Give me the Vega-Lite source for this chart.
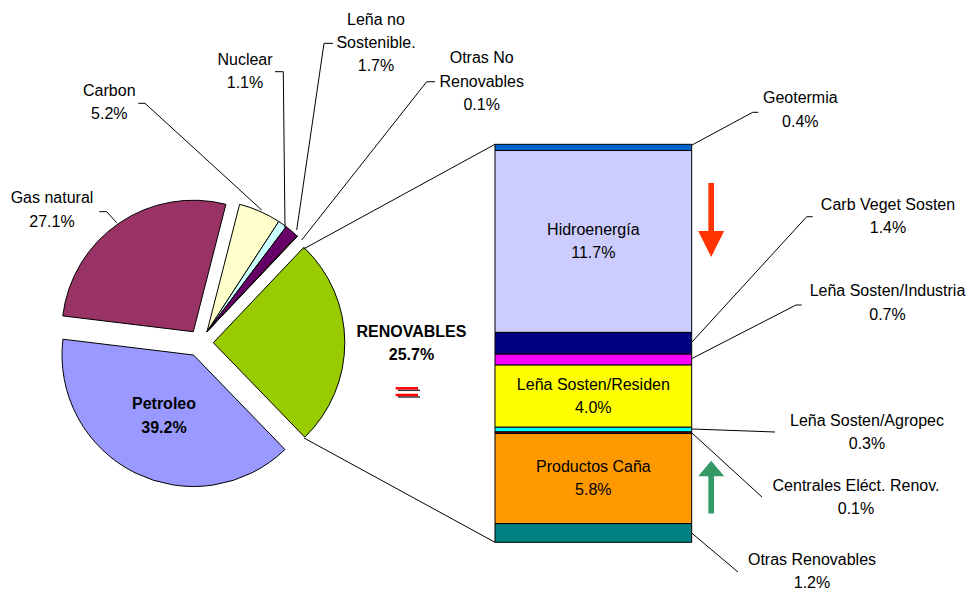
{
"$schema":"https://vega.github.io/schema/vega-lite/v6.json",
"width":974,"height":594,"autosize":"none","padding":0,"background":"white",
"config":{"view":{"stroke":null},"axis":{"disable":true},"legend":{"disable":true},
 "text":{"font":"Liberation Sans","fontSize":16,"lineBreak":"\n","lineHeight":23.3,"color":"#000000"},
 "rule":{"color":"#000000","strokeWidth":1}},
"datasets":{
 "pie":[
  {"fuente":"RENOVABLES","valor":0.257},
  {"fuente":"Petroleo","valor":0.392},
  {"fuente":"Gas natural","valor":0.271},
  {"fuente":"Carbon","valor":0.052},
  {"fuente":"Nuclear","valor":0.011},
  {"fuente":"Leña no\nSostenible.","valor":0.017},
  {"fuente":"Otras No\nRenovables","valor":0.001}],
 "renov":[
  {"fuente":"Geotermia","valor":0.004},
  {"fuente":"Hidroenergía","valor":0.117},
  {"fuente":"Carb Veget Sosten","valor":0.014},
  {"fuente":"Leña Sosten/Industria","valor":0.007},
  {"fuente":"Leña Sosten/Residen","valor":0.040},
  {"fuente":"Leña Sosten/Agropec","valor":0.003},
  {"fuente":"Centrales Eléct. Renov.","valor":0.001},
  {"fuente":"Productos Caña","valor":0.058},
  {"fuente":"Otras Renovables","valor":0.012}]
},
"layer":[
 {"data":{"name":"pie"},
  "transform":[{"window":[{"op":"row_number","as":"idx"}]},{"stack":"valor","groupby":[],"sort":[{"field":"idx","order":"ascending"}],"as":["t0","t1"]},{"filter":{"field":"fuente","equal":"RENOVABLES"}}],
  "mark":{"type":"arc","radius":131.5,"stroke":"#000000","strokeWidth":1},
  "encoding":{
   "theta":{"field":"t0","type":"quantitative","scale":{"domain":[0,1.001],"range":[0.7592,7.0424]}},
   "theta2":{"field":"t1"},
   "x":{"datum":-1.4321,"type":"quantitative","scale":{"domain":[-2.5165,2.4352],"nice":false,"zero":false}},
   "y":{"datum":0.12838,"type":"quantitative","scale":{"domain":[-0.03325,0.34882],"nice":false,"zero":false}},
   "color":{"field":"fuente","type":"nominal","legend":null,"scale":{"domain":["RENOVABLES","Petroleo","Gas natural","Carbon","Nuclear","Leña no\nSostenible.","Otras No\nRenovables","Geotermia","Hidroenergía","Carb Veget Sosten","Leña Sosten/Industria","Leña Sosten/Residen","Leña Sosten/Agropec","Centrales Eléct. Renov.","Productos Caña","Otras Renovables"],"range":["#99CC00","#9999FF","#993366","#FFFFCC","#CCFFFF","#660066","#FF8080","#0066CC","#CCCCFF","#000080","#FF00FF","#FFFF00","#00FFFF","#800000","#FF9900","#008080"]}}
  }},
 {"data":{"name":"pie"},
  "transform":[{"window":[{"op":"row_number","as":"idx"}]},{"stack":"valor","groupby":[],"sort":[{"field":"idx","order":"ascending"}],"as":["t0","t1"]},{"filter":{"field":"fuente","equal":"Petroleo"}}],
  "mark":{"type":"arc","radius":131.5,"stroke":"#000000","strokeWidth":1},
  "encoding":{
   "theta":{"field":"t0","type":"quantitative","scale":{"domain":[0,1.001],"range":[0.7592,7.0424]}},
   "theta2":{"field":"t1"},
   "x":{"datum":-1.5328,"type":"quantitative","scale":{"domain":[-2.5165,2.4352],"nice":false,"zero":false}},
   "y":{"datum":0.12047,"type":"quantitative","scale":{"domain":[-0.03325,0.34882],"nice":false,"zero":false}},
   "color":{"field":"fuente","type":"nominal","legend":null}
  }},
 {"data":{"name":"pie"},
  "transform":[{"window":[{"op":"row_number","as":"idx"}]},{"stack":"valor","groupby":[],"sort":[{"field":"idx","order":"ascending"}],"as":["t0","t1"]},{"filter":{"field":"fuente","equal":"Gas natural"}}],
  "mark":{"type":"arc","radius":131.5,"stroke":"#000000","strokeWidth":1},
  "encoding":{
   "theta":{"field":"t0","type":"quantitative","scale":{"domain":[0,1.001],"range":[0.7592,7.0424]}},
   "theta2":{"field":"t1"},
   "x":{"datum":-1.5338,"type":"quantitative","scale":{"domain":[-2.5165,2.4352],"nice":false,"zero":false}},
   "y":{"datum":0.13546,"type":"quantitative","scale":{"domain":[-0.03325,0.34882],"nice":false,"zero":false}},
   "color":{"field":"fuente","type":"nominal","legend":null}
  }},
 {"data":{"name":"pie"},
  "transform":[{"window":[{"op":"row_number","as":"idx"}]},{"stack":"valor","groupby":[],"sort":[{"field":"idx","order":"ascending"}],"as":["t0","t1"]},{"filter":{"field":"fuente","oneOf":["Carbon","Nuclear","Leña no\nSostenible.","Otras No\nRenovables"]}}],
  "mark":{"type":"arc","radius":131.5,"stroke":"#000000","strokeWidth":1},
  "encoding":{
   "theta":{"field":"t0","type":"quantitative","scale":{"domain":[0,1.001],"range":[0.7592,7.0424]}},
   "theta2":{"field":"t1"},
   "x":{"datum":-1.4642,"type":"quantitative","scale":{"domain":[-2.5165,2.4352],"nice":false,"zero":false}},
   "y":{"datum":0.13546,"type":"quantitative","scale":{"domain":[-0.03325,0.34882],"nice":false,"zero":false}},
   "color":{"field":"fuente","type":"nominal","legend":null}
  }},
 {"data":{"name":"renov"},
  "transform":[{"window":[{"op":"row_number","as":"idx"}]},{"stack":"valor","groupby":[],"sort":[{"field":"idx","order":"descending"}],"as":["y0","y1"]}],
  "mark":{"type":"rect","stroke":"#000000","strokeWidth":1},
  "encoding":{
   "x":{"datum":0,"type":"quantitative","scale":{"domain":[-2.5165,2.4352],"nice":false,"zero":false}},
   "x2":{"datum":1},
   "y":{"field":"y0","type":"quantitative","scale":{"domain":[-0.03325,0.34882],"nice":false,"zero":false}},
   "y2":{"field":"y1"},
   "color":{"field":"fuente","type":"nominal","legend":null}
  }},
 {"data":{"name":"renov"},
  "transform":[{"window":[{"op":"row_number","as":"idx"}]}],
  "mark":{"type":"text","dy":-11.5},
  "encoding":{
   "x":{"datum":0.5,"type":"quantitative","scale":{"domain":[-2.5165,2.4352],"nice":false,"zero":false}},
   "y":{"field":"valor","type":"quantitative","stack":"zero","bandPosition":0.5,"scale":{"domain":[-0.03325,0.34882],"nice":false,"zero":false}},
   "order":{"field":"idx","type":"quantitative","sort":"descending"},
   "detail":{"field":"fuente","type":"nominal"},
   "text":{"condition":{"test":"indexof(['Hidroenergía','Leña Sosten/Residen','Productos Caña'], datum.fuente) >= 0","field":"fuente","type":"nominal"},"value":""}
  }},
 {"data":{"name":"renov"},
  "transform":[{"window":[{"op":"row_number","as":"idx"}]}],
  "mark":{"type":"text","dy":11.5},
  "encoding":{
   "x":{"datum":0.5,"type":"quantitative","scale":{"domain":[-2.5165,2.4352],"nice":false,"zero":false}},
   "y":{"field":"valor","type":"quantitative","stack":"zero","bandPosition":0.5,"scale":{"domain":[-0.03325,0.34882],"nice":false,"zero":false}},
   "order":{"field":"idx","type":"quantitative","sort":"descending"},
   "detail":{"field":"fuente","type":"nominal"},
   "text":{"condition":{"test":"indexof(['Hidroenergía','Leña Sosten/Residen','Productos Caña'], datum.fuente) >= 0","field":"valor","type":"quantitative","format":".1%"},"value":""}
  }},

 {"data":{"name":"pie"},"transform":[{"filter":{"field":"fuente","equal":"Gas natural"}}],
  "encoding":{"x":{"datum":-2.2522,"type":"quantitative","scale":{"domain":[-2.5165,2.4352],"nice":false,"zero":false}}},
  "layer":[
   {"mark":"text","encoding":{"y":{"datum":0.22127,"type":"quantitative","scale":{"domain":[-0.03325,0.34882],"nice":false,"zero":false}},"text":{"field":"fuente","type":"nominal"}}},
   {"mark":"text","encoding":{"y":{"datum":0.20622,"type":"quantitative"},"text":{"field":"valor","type":"quantitative","format":".1%"}}},
   {"mark":"rule","encoding":{"x":{"datum":-2.0117,"type":"quantitative"},"x2":{"datum":-1.9741},"y":{"datum":0.21265,"type":"quantitative"},"y2":{"datum":0.21265}}},
   {"mark":"rule","encoding":{"x":{"datum":-1.9741,"type":"quantitative"},"x2":{"datum":-1.9233},"y":{"datum":0.21265,"type":"quantitative"},"y2":{"datum":0.20557}}}
  ]},
 {"data":{"name":"pie"},"transform":[{"filter":{"field":"fuente","equal":"Carbon"}}],
  "encoding":{"x":{"datum":-1.9609,"type":"quantitative"}},
  "layer":[
   {"mark":"text","encoding":{"y":{"datum":0.29029,"type":"quantitative"},"text":{"field":"fuente","type":"nominal"}}},
   {"mark":"text","encoding":{"y":{"datum":0.27550,"type":"quantitative"},"text":{"field":"valor","type":"quantitative","format":".1%"}}},
   {"mark":"rule","encoding":{"x":{"datum":-1.8134,"type":"quantitative"},"x2":{"datum":-1.7794},"y":{"datum":0.28237,"type":"quantitative"},"y2":{"datum":0.28237}}},
   {"mark":"rule","encoding":{"x":{"datum":-1.7794,"type":"quantitative"},"x2":{"datum":-1.1861},"y":{"datum":0.28237,"type":"quantitative"},"y2":{"datum":0.21374}}}
  ]},
 {"data":{"name":"pie"},"transform":[{"filter":{"field":"fuente","equal":"Nuclear"}}],
  "encoding":{"x":{"datum":-1.2710,"type":"quantitative"}},
  "layer":[
   {"mark":"text","encoding":{"y":{"datum":0.31022,"type":"quantitative"},"text":{"field":"fuente","type":"nominal"}}},
   {"mark":"text","encoding":{"y":{"datum":0.29523,"type":"quantitative"},"text":{"field":"valor","type":"quantitative","format":".1%"}}},
   {"mark":"rule","encoding":{"x":{"datum":-1.1185,"type":"quantitative"},"x2":{"datum":-1.0763},"y":{"datum":0.30270,"type":"quantitative"},"y2":{"datum":0.30270}}},
   {"mark":"rule","encoding":{"x":{"datum":-1.0763,"type":"quantitative"},"x2":{"datum":-1.0676},"y":{"datum":0.30270,"type":"quantitative"},"y2":{"datum":0.20216}}}
  ]},
 {"data":{"name":"pie"},"transform":[{"filter":{"field":"fuente","equal":"Leña no\nSostenible."}}],
  "encoding":{"x":{"datum":-0.6050,"type":"quantitative"}},
  "layer":[
   {"mark":"text","encoding":{"y":{"datum":0.33595,"type":"quantitative"},"text":{"field":"fuente","type":"nominal"}}},
   {"mark":"text","encoding":{"y":{"datum":0.30655,"type":"quantitative"},"text":{"field":"valor","type":"quantitative","format":".1%"}}},
   {"mark":"rule","encoding":{"x":{"datum":-0.8693,"type":"quantitative"},"x2":{"datum":-0.8236},"y":{"datum":0.32096,"type":"quantitative"},"y2":{"datum":0.32096}}},
   {"mark":"rule","encoding":{"x":{"datum":-0.8693,"type":"quantitative"},"x2":{"datum":-1.0081},"y":{"datum":0.32096,"type":"quantitative"},"y2":{"datum":0.20088}}}
  ]},
 {"data":{"name":"pie"},"transform":[{"filter":{"field":"fuente","equal":"Otras No\nRenovables"}}],
  "encoding":{"x":{"datum":-0.0676,"type":"quantitative"}},
  "layer":[
   {"mark":"text","encoding":{"y":{"datum":0.31131,"type":"quantitative"},"text":{"field":"fuente","type":"nominal"}}},
   {"mark":"text","encoding":{"y":{"datum":0.28128,"type":"quantitative"},"text":{"field":"valor","type":"quantitative","format":".1%"}}},
   {"mark":"rule","encoding":{"x":{"datum":-0.3472,"type":"quantitative"},"x2":{"datum":-0.3050},"y":{"datum":0.29626,"type":"quantitative"},"y2":{"datum":0.29626}}},
   {"mark":"rule","encoding":{"x":{"datum":-0.3472,"type":"quantitative"},"x2":{"datum":-0.9827},"y":{"datum":0.29626,"type":"quantitative"},"y2":{"datum":0.19444}}}
  ]},
 {"data":{"name":"pie"},"transform":[{"filter":{"field":"fuente","equal":"Petroleo"}}],
  "encoding":{"x":{"datum":-1.6828,"type":"quantitative"}},
  "layer":[
   {"mark":{"type":"text","fontWeight":"bold"},"encoding":{"y":{"datum":0.08896,"type":"quantitative"},"text":{"field":"fuente","type":"nominal"}}},
   {"mark":{"type":"text","fontWeight":"bold"},"encoding":{"y":{"datum":0.07333,"type":"quantitative"},"text":{"field":"valor","type":"quantitative","format":".1%"}}}
  ]},
 {"data":{"name":"pie"},"transform":[{"filter":{"field":"fuente","equal":"RENOVABLES"}}],
  "encoding":{"x":{"datum":-0.4245,"type":"quantitative"}},
  "layer":[
   {"mark":{"type":"text","fontWeight":"bold"},"encoding":{"y":{"datum":0.13546,"type":"quantitative"},"text":{"field":"fuente","type":"nominal"}}},
   {"mark":{"type":"text","fontWeight":"bold"},"encoding":{"y":{"datum":0.12047,"type":"quantitative"},"text":{"field":"valor","type":"quantitative","format":".1%"}}},
   {"mark":"rule","encoding":{"x":{"datum":-0.9736,"type":"quantitative"},"x2":{"datum":0},"y":{"datum":0.18865,"type":"quantitative"},"y2":{"datum":0.256}}},
   {"mark":"rule","encoding":{"x":{"datum":-0.9710,"type":"quantitative"},"x2":{"datum":0},"y":{"datum":0.06709,"type":"quantitative"},"y2":{"datum":0}}},
   {"mark":{"type":"rule","color":"#333333","strokeWidth":1.5},"encoding":{"x":{"datum":-0.4931,"type":"quantitative"},"x2":{"datum":-0.3813},"y":{"datum":0.09777,"type":"quantitative"},"y2":{"datum":0.09777}}},
   {"mark":{"type":"rule","color":"#333333","strokeWidth":1.5},"encoding":{"x":{"datum":-0.4931,"type":"quantitative"},"x2":{"datum":-0.3813},"y":{"datum":0.09346,"type":"quantitative"},"y2":{"datum":0.09346}}},
   {"mark":{"type":"rule","color":"#FF0000","strokeWidth":2.5},"encoding":{"x":{"datum":-0.5048,"type":"quantitative"},"x2":{"datum":-0.3915},"y":{"datum":0.09905,"type":"quantitative"},"y2":{"datum":0.09905}}},
   {"mark":{"type":"rule","color":"#FF0000","strokeWidth":2.5},"encoding":{"x":{"datum":-0.5048,"type":"quantitative"},"x2":{"datum":-0.3915},"y":{"datum":0.09474,"type":"quantitative"},"y2":{"datum":0.09474}}}
  ]},

 {"data":{"name":"renov"},"transform":[{"filter":{"field":"fuente","equal":"Geotermia"}}],
  "encoding":{"x":{"datum":1.5521,"type":"quantitative"}},
  "layer":[
   {"mark":"text","encoding":{"y":{"datum":0.28559,"type":"quantitative"},"text":{"field":"fuente","type":"nominal"}}},
   {"mark":"text","encoding":{"y":{"datum":0.27053,"type":"quantitative"},"text":{"field":"valor","type":"quantitative","format":".1%"}}},
   {"mark":"rule","encoding":{"x":{"datum":1.3101,"type":"quantitative"},"x2":{"datum":1.3386},"y":{"datum":0.27658,"type":"quantitative"},"y2":{"datum":0.27658}}},
   {"mark":"rule","encoding":{"x":{"datum":1.3101,"type":"quantitative"},"x2":{"datum":1.0015},"y":{"datum":0.27658,"type":"quantitative"},"y2":{"datum":0.25555}}}
  ]},
 {"data":{"name":"renov"},"transform":[{"filter":{"field":"fuente","equal":"Carb Veget Sosten"}}],
  "encoding":{"x":{"datum":1.9980,"type":"quantitative"}},
  "layer":[
   {"mark":"text","encoding":{"y":{"datum":0.21696,"type":"quantitative"},"text":{"field":"fuente","type":"nominal"}}},
   {"mark":"text","encoding":{"y":{"datum":0.20197,"type":"quantitative"},"text":{"field":"valor","type":"quantitative","format":".1%"}}},
   {"mark":"rule","encoding":{"x":{"datum":1.5847,"type":"quantitative"},"x2":{"datum":1.6152},"y":{"datum":0.20943,"type":"quantitative"},"y2":{"datum":0.20943}}},
   {"mark":"rule","encoding":{"x":{"datum":1.5847,"type":"quantitative"},"x2":{"datum":1.0015},"y":{"datum":0.20943,"type":"quantitative"},"y2":{"datum":0.12884}}}
  ]},
 {"data":{"name":"renov"},"transform":[{"filter":{"field":"fuente","equal":"Leña Sosten/Industria"}}],
  "encoding":{"x":{"datum":1.9954,"type":"quantitative"}},
  "layer":[
   {"mark":"text","encoding":{"y":{"datum":0.16164,"type":"quantitative"},"text":{"field":"fuente","type":"nominal"}}},
   {"mark":"text","encoding":{"y":{"datum":0.14652,"type":"quantitative"},"text":{"field":"valor","type":"quantitative","format":".1%"}}},
   {"mark":"rule","encoding":{"x":{"datum":1.5303,"type":"quantitative"},"x2":{"datum":1.5592},"y":{"datum":0.15263,"type":"quantitative"},"y2":{"datum":0.15263}}},
   {"mark":"rule","encoding":{"x":{"datum":1.5303,"type":"quantitative"},"x2":{"datum":1.0015},"y":{"datum":0.15263,"type":"quantitative"},"y2":{"datum":0.11822}}}
  ]},
 {"data":{"name":"renov"},"transform":[{"filter":{"field":"fuente","equal":"Leña Sosten/Agropec"}}],
  "encoding":{"x":{"datum":1.8912,"type":"quantitative"}},
  "layer":[
   {"mark":"text","encoding":{"y":{"datum":0.07802,"type":"quantitative"},"text":{"field":"fuente","type":"nominal"}}},
   {"mark":"text","encoding":{"y":{"datum":0.06323,"type":"quantitative"},"text":{"field":"valor","type":"quantitative","format":".1%"}}},
   {"mark":"rule","encoding":{"x":{"datum":1.0015,"type":"quantitative"},"x2":{"datum":1.4235},"y":{"datum":0.07288,"type":"quantitative"},"y2":{"datum":0.07095}}}
  ]},
 {"data":{"name":"renov"},"transform":[{"filter":{"field":"fuente","equal":"Centrales Eléct. Renov."}}],
  "encoding":{"x":{"datum":1.8353,"type":"quantitative"}},
  "layer":[
   {"mark":"text","encoding":{"y":{"datum":0.03621,"type":"quantitative"},"text":{"field":"fuente","type":"nominal"}}},
   {"mark":"text","encoding":{"y":{"datum":0.02142,"type":"quantitative"},"text":{"field":"valor","type":"quantitative","format":".1%"}}},
   {"mark":"rule","encoding":{"x":{"datum":1.0015,"type":"quantitative"},"x2":{"datum":1.3574},"y":{"datum":0.0703,"type":"quantitative"},"y2":{"datum":0.02914}}}
  ]},
 {"data":{"name":"renov"},"transform":[{"filter":{"field":"fuente","equal":"Otras Renovables"}}],
  "encoding":{"x":{"datum":1.6116,"type":"quantitative"}},
  "layer":[
   {"mark":"text","encoding":{"y":{"datum":-0.01138,"type":"quantitative"},"text":{"field":"fuente","type":"nominal"}}},
   {"mark":"text","encoding":{"y":{"datum":-0.02618,"type":"quantitative"},"text":{"field":"valor","type":"quantitative","format":".1%"}}},
   {"mark":"rule","encoding":{"x":{"datum":1.0015,"type":"quantitative"},"x2":{"datum":1.2354},"y":{"datum":0.00579,"type":"quantitative"},"y2":{"datum":-0.01910}}}
  ]},
 {"data":{"name":"renov"},"transform":[{"filter":{"field":"fuente","equal":"Hidroenergía"}}],
  "encoding":{"x":{"datum":1.0991,"type":"quantitative"}},
  "layer":[
   {"mark":{"type":"rule","color":"#FF3300","strokeWidth":5.7},"encoding":{"y":{"datum":0.23111,"type":"quantitative"},"y2":{"datum":0.19830}}},
   {"mark":{"type":"point","shape":"M-1,-1L1,-1L0,1Z","size":676,"filled":true,"color":"#FF3300","opacity":1,"strokeWidth":0},"encoding":{"y":{"datum":0.19187,"type":"quantitative"}}}
  ]},
 {"data":{"name":"renov"},"transform":[{"filter":{"field":"fuente","equal":"Productos Caña"}}],
  "encoding":{"x":{"datum":1.0991,"type":"quantitative"}},
  "layer":[
   {"mark":{"type":"rule","color":"#339966","strokeWidth":5.7},"encoding":{"y":{"datum":0.04265,"type":"quantitative"},"y2":{"datum":0.01852}}},
   {"mark":{"type":"point","shape":"M0,-1L1,0.2L-1,0.2Z","size":676,"filled":true,"color":"#339966","opacity":1,"strokeWidth":0},"encoding":{"y":{"datum":0.04412,"type":"quantitative"}}}
  ]}
]
}
